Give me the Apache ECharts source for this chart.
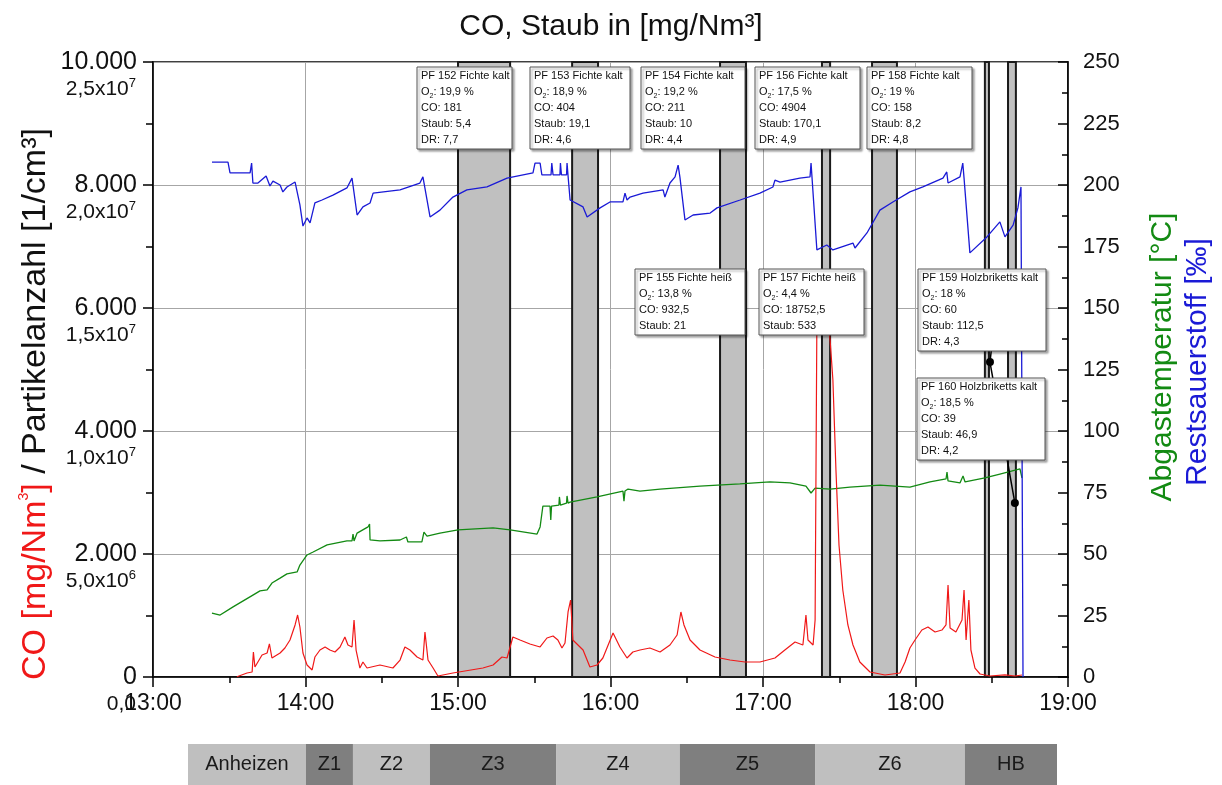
<!DOCTYPE html>
<html><head><meta charset="utf-8">
<script src="https://cdn.jsdelivr.net/npm/echarts@6/dist/echarts.min.js"></script>
<style>html,body{margin:0;padding:0;background:#fff}#c{width:1222px;height:785px}</style>
</head><body><div id="c"></div>
<script>
// ---------- DATA (time = minutes after 13:00) ----------
const timeTickLabels = ['13:00','14:00','15:00','16:00','17:00','18:00','19:00'];
const coTickLabels = ['0','2.000','4.000','6.000','8.000','10.000'];
const pnTickMant = ['0,0','5,0x10','1,0x10','1,5x10','2,0x10','2,5x10'];
const pnTickExp = ['','6','7','7','7','7'];

// Restsauerstoff [‰]
const o2Data = [
[23.2,209.3],[29.5,209.3],[30.3,204.9],[38.2,204.9],[38.8,208.9],[39.3,200.8],[41.3,200.8],[44.5,203.7],[46.0,199.6],[47.2,201.6],
[50.0,200.0],[51.1,197.2],[52.7,199.2],[55.9,201.2],[57.8,191.9],[59.0,183.3],[60.6,186.6],[61.8,184.6],[63.7,192.7],[66.5,193.9],
[70.8,195.9],[76.3,198.8],[78.3,202.8],[80.3,187.8],[82.6,191.1],[85.4,192.7],[86.6,196.7],[97.2,198.0],[105.0,200.8],[106.2,203.3],
[109.0,187.0],[112.9,189.8],[118.0,195.1],[123.5,198.0],[131.4,199.2],[139.3,202.8],[149.5,204.9],[150.3,208.9],[152.3,208.9],[153.0,204.1],
[156.6,204.1],[156.9,208.9],[157.4,204.1],[160.1,204.1],[160.3,208.9],[160.7,204.1],[162.7,204.1],[162.9,208.9],[163.3,203.7],[164.1,193.9],
[169.2,191.1],[170.8,187.0],[175.9,190.7],[179.8,193.1],[184.9,193.1],[185.7,196.7],[186.5,193.9],[187.7,195.1],[192.8,196.7],[200.7,198.0],
[201.4,195.1],[203.4,200.8],[205.4,203.3],[206.6,208.1],[207.3,203.3],[209.3,185.8],[212.5,187.8],[219.2,188.6],[221.9,190.7],[231.0,193.9],
[238.8,196.7],[243.9,199.2],[244.7,202.0],[246.7,201.2],[254.5,202.8],[258.5,203.3],[258.9,208.9],[259.3,202.8],[261.2,173.6],[265.1,175.6],
[267.5,173.6],[275.4,176.4],[276.2,174.4],[280.9,180.5],[286.0,189.8],[291.1,193.1],[297.8,197.2],[302.9,199.2],[310.8,202.8],[312.3,205.3],
[312.8,200.8],[317.5,203.3],[318.6,208.9],[319.1,202.8],[321.4,172.4],[328.1,178.9],[333.2,185.0],[335.2,178.9],[338.4,183.7],[340.3,190.7],
[341.5,199.2],[341.9,198.8],[342.3,0]
];

// Abgastemperatur [°C]
const tempData = [
[23.2,26.0],[26.4,25.2],[31.5,28.5],[39.3,33.3],[42.1,35.0],[44.9,35.4],[46.8,38.2],[50.0,40.2],[52.7,41.9],[56.7,42.7],
[57.8,45.5],[60.6,49.6],[63.0,50.8],[68.5,53.7],[72.4,54.5],[76.3,55.3],[78.3,55.3],[78.7,58.1],[79.1,55.3],[80.3,58.5],
[84.6,61.0],[85.2,62.2],[85.4,55.7],[89.3,55.3],[97.2,55.7],[99.7,56.9],[100.3,54.9],[105.8,54.9],[106.6,58.9],[107.8,57.3],
[112.9,58.5],[120.0,59.8],[133.8,60.6],[140.5,59.8],[151.1,58.1],[152.3,61.0],[153.4,69.5],[156.2,69.5],[156.5,63.8],[156.8,69.5],
[159.7,69.9],[159.9,73.2],[160.3,69.9],[162.7,70.7],[162.9,73.6],[163.3,70.7],[164.1,71.1],[174.7,73.2],[184.9,75.6],[185.3,71.5],
[185.7,75.6],[186.9,76.4],[191.6,75.6],[199.5,76.4],[215.2,77.6],[230.9,78.5],[242.7,79.3],[250.6,78.9],[256.9,77.6],[258.9,74.8],
[260.5,76.8],[266.4,76.4],[274.2,77.2],[286.0,78.0],[297.8,77.2],[305.7,79.3],[312.0,80.5],[312.4,83.3],[312.8,79.7],[317.5,78.9],
[318.7,81.7],[319.5,79.3],[327.3,80.9],[333.2,82.5],[341.1,84.6],[341.9,80.9]
];

// CO [mg/Nm³]
const coData = [
[33.0,5],[37.0,65],[39.0,81],[39.5,407],[40.1,163],[42.9,358],[44.9,390],[45.8,537],[46.8,309],[50.0,390],
[51.9,472],[53.9,602],[55.9,846],[56.9,1008],[57.8,813],[59.0,390],[60.6,195],[62.6,114],[63.7,325],[65.7,439],
[67.7,488],[69.6,439],[71.6,407],[73.6,488],[75.5,650],[76.7,520],[78.3,488],[79.1,927],[79.9,439],[81.4,146],
[82.6,244],[84.2,146],[89.3,195],[94.4,146],[97.2,276],[99.1,488],[101.1,439],[103.9,325],[106.2,276],[107.0,732],
[108.2,276],[110.2,146],[112.1,16],[118.0,65],[129.8,146],[133.8,195],[137.3,325],[139.3,309],[141.6,650],[144.4,602],
[148.3,537],[152.3,488],[155.0,634],[157.4,667],[159.3,602],[160.9,472],[162.1,553],[163.3,1057],[164.3,1252],[165.2,602],
[169.2,439],[171.9,163],[174.7,195],[177.0,309],[181.0,715],[183.7,488],[186.5,309],[188.8,407],[191.6,439],[195.5,472],
[199.5,407],[203.4,520],[206.2,683],[207.7,1057],[208.9,846],[211.3,602],[215.2,439],[221.1,325],[227.0,276],[232.9,244],
[238.8,244],[244.7,309],[248.6,439],[252.6,569],[255.7,520],[256.9,1008],[257.7,602],[259.7,520],[260.5,927],[261.2,5805],
[262.4,6130],[264.8,6130],[266.4,5480],[267.5,4829],[268.7,3366],[269.9,2146],[271.4,1415],[273.4,846],[275.4,520],[278.1,244],
[282.1,81],[288.0,33],[293.9,65],[295.9,244],[297.8,472],[299.8,602],[302.5,764],[304.9,813],[307.7,732],[310.4,764],
[312.0,846],[312.8,1496],[313.6,797],[315.9,732],[318.3,927],[319.1,1415],[319.9,602],[321.0,1252],[321.8,439],[323.4,146],
[325.4,49],[329.3,16],[335.2,33],[339.1,16],[341.9,33]
];

// Partikelanzahl [1/cm³]
const particleData = [[332.1,1.533e7],[329.3,1.28e7],[339.1,7.07e6]];

// Messphasen (grau hinterlegt): [Start, Ende]
const bands = [[120.0,140.5],[164.9,175.1],[223.1,233.3],[263.2,266.4],[282.9,292.7],[327.3,328.9],[336.4,339.5]];

// Phasen-Leiste
const phaseNames = ['Anheizen','Z1','Z2','Z3','Z4','Z5','Z6','HB'];
const phaseStarts = [13.8,60.2,78.7,109.0,158.6,207.3,260.5,319.5];
const phaseEnds = [60.2,78.7,109.0,158.6,207.3,260.5,319.5,355.7];

// Annotation boxes
const boxTitles = ['PF 152 Fichte kalt','PF 153 Fichte kalt','PF 154 Fichte kalt','PF 156 Fichte kalt','PF 158 Fichte kalt','PF 155 Fichte heiß','PF 157 Fichte heiß','PF 159 Holzbriketts kalt','PF 160 Holzbriketts kalt'];
const boxO2 = ['19,9','18,9','19,2','17,5','19','13,8','4,4','18','18,5'];
const boxCO = ['181','404','211','4904','158','932,5','18752,5','60','39'];
const boxStaub = ['5,4','19,1','10','170,1','8,2','21','533','112,5','46,9'];
const boxDR = ['7,7','4,6','4,4','4,9','4,8',null,null,'4,3','4,2'];

// ---------- LAYOUT / STYLE ----------
const FONT = 'Liberation Sans, Arial, sans-serif';
const boxLayout = [[417,67,95],[530,67,100],[641,67,104],[755,67,105],[867,67,105],[635,269,110],[759,269,105],[918,269,128],[917,378,128]];
const G = {left:153, right:154, top:62, bottom:108};

const chart = echarts.init(document.getElementById('c'), null, {renderer:'canvas'});

const boxGraphics = boxTitles.map((t, i) => {
  const lines = ['{n|' + t + '}', '{n|O}{s|2}{n|: ' + boxO2[i] + ' %}', '{n|CO: ' + boxCO[i] + '}', '{n|Staub: ' + boxStaub[i] + '}'];
  if (boxDR[i]) lines.push('{n|DR: ' + boxDR[i] + '}');
  const [x, y, w] = boxLayout[i];
  const h = lines.length * 16 + 2;
  return {
    type:'group', x, y, z:100,
    children:[
      {type:'rect', z:100, shape:{x:0,y:0,width:w,height:h}, style:{fill:'#fff', stroke:'#555', lineWidth:1, shadowBlur:2, shadowColor:'rgba(0,0,0,0.35)', shadowOffsetX:2, shadowOffsetY:2}},
      {type:'text', z:101, x:4, y:1, style:{text: lines.join('\n'), fontFamily:FONT, fill:'#111',
        rich:{n:{fontSize:11, lineHeight:16, fontFamily:FONT, fill:'#111'}, s:{fontSize:7, lineHeight:16, verticalAlign:'bottom', fontFamily:FONT, fill:'#111'}}}}
    ]
  };
});

const option = {
  animation:false,
  backgroundColor:'#fff',
  textStyle:{fontFamily:FONT},
  title:{text:'CO, Staub in [mg/Nm³]', left:'center', top:7, textStyle:{fontSize:30, fontWeight:'normal', color:'#111', fontFamily:FONT}},
  grid:[
    {left:G.left, right:G.right, top:G.top, bottom:G.bottom, show:true, borderColor:'#000', borderWidth:1.5, backgroundColor:'transparent'},
    {left:188, right:1222-1057, top:744, height:41}
  ],
  xAxis:[
    {type:'value', gridIndex:0, min:0, max:360, interval:60,
     axisLine:{show:true, onZero:false, lineStyle:{color:'#000', width:1.5}},
     axisTick:{show:true, length:10, lineStyle:{color:'#000', width:1.5}},
     minorTick:{show:true, splitNumber:2, length:6, lineStyle:{color:'#000', width:1.5}},
     splitLine:{show:true, lineStyle:{color:'#a6a6a6', width:1}},
     axisLabel:{formatter:(v)=>timeTickLabels[Math.round(v/60)], fontSize:23, color:'#111', margin:15, fontFamily:FONT}},
    {type:'value', gridIndex:1, min:13.8, max:355.7, show:false}
  ],
  yAxis:[
    {type:'value', gridIndex:0, position:'left', min:0, max:10000, interval:2000,
     axisLine:{show:true, lineStyle:{color:'#000', width:1.5}},
     axisTick:{show:true, length:10, lineStyle:{color:'#000', width:1.5}},
     minorTick:{show:true, splitNumber:2, length:7, lineStyle:{color:'#000', width:1.5}},
     splitLine:{show:true, lineStyle:{color:'#a6a6a6', width:1}},
     axisLabel:{formatter:(v)=>coTickLabels[Math.round(v/2000)], fontSize:25, color:'#111', margin:16, fontFamily:FONT}},
    {type:'value', gridIndex:0, position:'left', min:0, max:2.5e7, interval:5e6,
     axisLine:{show:false}, axisTick:{show:false}, splitLine:{show:false},
     axisLabel:{margin:17, verticalAlign:'top', padding:[15,0,0,0],
       formatter:(v)=>{ const k = Math.round(v/5e6); return pnTickExp[k] ? '{m|' + pnTickMant[k] + '}{s|' + pnTickExp[k] + '}' : '{m|' + pnTickMant[k] + '}'; },
       rich:{m:{fontSize:21, color:'#111', fontFamily:FONT, lineHeight:24}, s:{fontSize:13, color:'#111', fontFamily:FONT, verticalAlign:'top', lineHeight:14}}}},
    {type:'value', gridIndex:0, position:'right', min:0, max:250, interval:25,
     axisLine:{show:true, lineStyle:{color:'#000', width:1.5}},
     axisTick:{show:true, inside:true, length:10, lineStyle:{color:'#000', width:1.5}},
     minorTick:{show:true, splitNumber:2, length:6, lineStyle:{color:'#000', width:1.5}},
     splitLine:{show:false},
     axisLabel:{fontSize:22, color:'#111', margin:15, fontFamily:FONT}},
    {type:'value', gridIndex:1, min:0, max:1, show:false}
  ],
  series:[
    {type:'custom', name:'Messungen', xAxisIndex:0, yAxisIndex:0, z:1, silent:true,
     data:bands, encode:{x:[0,1]},
     renderItem:(params, api)=>{
       const p0 = api.coord([api.value(0), 10000]);
       const p1 = api.coord([api.value(1), 0]);
       return {type:'rect', shape:{x:p0[0], y:p0[1], width:p1[0]-p0[0], height:p1[1]-p0[1]},
               style:{fill:'#c0c0c0', stroke:'#1a1a1a', lineWidth:2}};
     }},
    {type:'line', name:'Abgastemperatur', xAxisIndex:0, yAxisIndex:2, data:tempData, showSymbol:false, z:3,
     lineStyle:{color:'#138a13', width:1.3}, itemStyle:{color:'#138a13'}},
    {type:'line', name:'Restsauerstoff', xAxisIndex:0, yAxisIndex:2, data:o2Data, showSymbol:false, z:3,
     lineStyle:{color:'#1a1ad6', width:1.3}, itemStyle:{color:'#1a1ad6'}},
    {type:'line', name:'CO', xAxisIndex:0, yAxisIndex:0, data:coData, showSymbol:false, z:4,
     lineStyle:{color:'#f01818', width:1.2}, itemStyle:{color:'#f01818'}},
    {type:'line', name:'Partikelanzahl', xAxisIndex:0, yAxisIndex:1, data:particleData, z:5,
     symbol:'circle', symbolSize:8, showSymbol:true,
     lineStyle:{color:'#000', width:1.5}, itemStyle:{color:'#000'}},
    {type:'custom', name:'Phasen', xAxisIndex:1, yAxisIndex:3, silent:true,
     data:phaseStarts.map((s,i)=>[s, phaseEnds[i], i]), encode:{x:[0,1]},
     renderItem:(params, api)=>{
       const i = api.value(2);
       const p0 = api.coord([api.value(0), 1]);
       const p1 = api.coord([api.value(1), 0]);
       return {type:'group', children:[
         {type:'rect', shape:{x:p0[0], y:p0[1], width:p1[0]-p0[0], height:p1[1]-p0[1]},
          style:{fill: i % 2 === 0 ? '#bfbfbf' : '#7f7f7f'}},
         {type:'text', style:{text:phaseNames[i], x:(p0[0]+p1[0])/2, y:(p0[1]+p1[1])/2, align:'center', verticalAlign:'middle',
          fontSize:20, fill:'#1a1a1a', fontFamily:FONT}}
       ]};
     }}
  ],
  graphic:[
    {type:'text', x:36, y:404, rotation:Math.PI/2, z:50,
     style:{text:'{r|CO [mg/Nm}{rs|3}{r|]}{k| / Partikelanzahl [1/cm³]}', align:'center', verticalAlign:'middle',
       rich:{r:{fontSize:34, fill:'#f01818', fontFamily:FONT, lineHeight:38},
             rs:{fontSize:14, fill:'#f01818', fontFamily:FONT, verticalAlign:'top', lineHeight:16},
             k:{fontSize:34, fill:'#111', fontFamily:FONT, lineHeight:38}}}},
    {type:'text', x:1163, y:357, rotation:Math.PI/2, z:50,
     style:{text:'Abgastemperatur [°C]', align:'center', verticalAlign:'middle', fontSize:30, fill:'#138a13', fontFamily:FONT}},
    {type:'text', x:1198, y:362, rotation:Math.PI/2, z:50,
     style:{text:'Restsauerstoff [‰]', align:'center', verticalAlign:'middle', fontSize:30, fill:'#1a1ad6', fontFamily:FONT}},
    ...boxGraphics
  ]
};
chart.setOption(option);
</script>
</body></html>
